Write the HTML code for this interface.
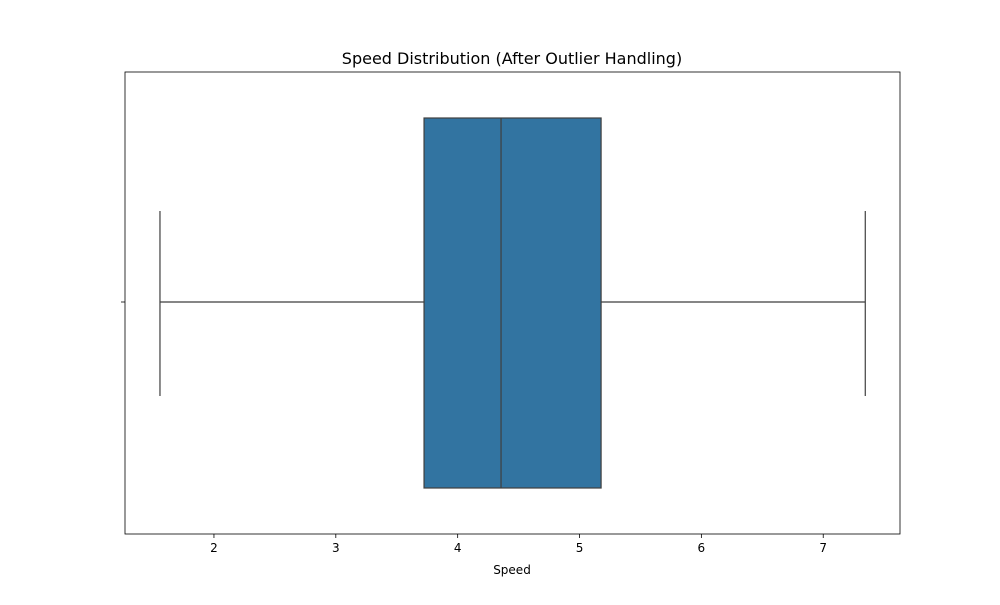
<!DOCTYPE html>
<html><head><meta charset="utf-8"><style>
body{margin:0;background:#fff;font-family:"Liberation Sans","DejaVu Sans",sans-serif;}
</style></head><body>
<svg width="1000" height="600" xmlns="http://www.w3.org/2000/svg">
<rect width="1000" height="600" fill="#fff"/>
<text x="512" y="64" text-anchor="middle" font-size="16" font-family="DejaVu Sans, sans-serif">Speed Distribution (After Outlier Handling)</text>
<g id="plot"></g>
<text x="512" y="574" text-anchor="middle" font-size="12" font-family="DejaVu Sans, sans-serif">Speed</text>
</svg>
<script>
const tickValues=[2,3,4,5,6,7];
const stats=[1.557,3.724,4.356,5.177,7.345]; // min, q1, median, q3, max
const L=125,R=900,T=72,B=534,xmin=1.27,xmax=7.63;
const xs=v=>L+(v-xmin)/(xmax-xmin)*(R-L);
const g=document.getElementById('plot');
const NS='http://www.w3.org/2000/svg';
function mk(tag,a){const e=document.createElementNS(NS,tag);for(const k in a)e.setAttribute(k,a[k]);g.appendChild(e);return e;}
const cy=302,bt=118,bb=488,ct=211,cb=396,c='#3f3f3f';
let e;
e=mk('line',{x1:xs(stats[0]),x2:xs(stats[1]),y1:cy,y2:cy,stroke:c,'stroke-width':1.2});


e=mk('line',{x1:xs(stats[3]),x2:xs(stats[4]),y1:cy,y2:cy,stroke:c,'stroke-width':1.2});


e=mk('line',{x1:xs(stats[0]),x2:xs(stats[0]),y1:ct,y2:cb,stroke:c,'stroke-width':1.2});


e=mk('line',{x1:xs(stats[4]),x2:xs(stats[4]),y1:ct,y2:cb,stroke:c,'stroke-width':1.2});


e=mk('rect',{x:xs(stats[1]),y:bt,width:xs(stats[3])-xs(stats[1]),height:bb-bt,fill:'#3274a1',stroke:c,'stroke-width':1.2});


e=mk('line',{x1:xs(stats[2]),x2:xs(stats[2]),y1:bt,y2:bb,stroke:c,'stroke-width':1.2});


e=mk('rect',{x:L,y:T,width:R-L,height:B-T,fill:'none',stroke:'#000','stroke-width':0.8});


e=mk('line',{x1:L-4,x2:L,y1:cy,y2:cy,stroke:'#000','stroke-width':0.8});


tickValues.forEach(v=>{
  const x=xs(v);
  let t=mk('line',{x1:x,x2:x,y1:B,y2:B+4,stroke:'#000','stroke-width':0.8});
  
  
  let l=mk('text',{x:x,y:B+18,'text-anchor':'middle','font-size':12,'font-family':'DejaVu Sans, sans-serif'});
  l.textContent=v;
  
  
});
</script>
</body></html>
